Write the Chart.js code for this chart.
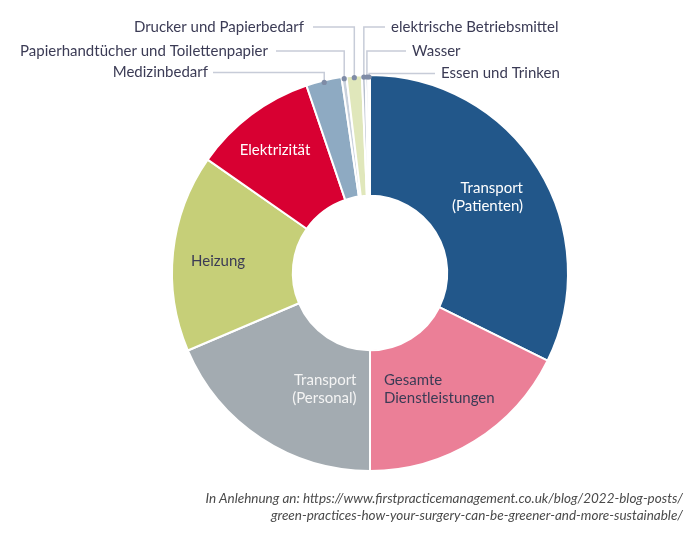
<!DOCTYPE html>
<html>
<head>
<meta charset="utf-8">
<script src="https://cdn.jsdelivr.net/npm/chart.js@4.4.1/dist/chart.umd.min.js"></script>
<style>
  html, body { margin: 0; padding: 0; background: #ffffff; }
  #wrap { position: relative; width: 700px; height: 540px; }
  #c { position: absolute; left: 0; top: 0; }
  #caption {
    position: absolute; right: 17px; top: 490px;
    font-family: Lato, "Open Sans", sans-serif; font-style: italic;
    font-size: 13.5px; line-height: 17px; color: #4a4a4a; text-align: right;
  }
</style>
</head>
<body>
<div id="wrap">
  <canvas id="c" width="700" height="540"></canvas>
  <div id="caption">In Anlehnung an: https://www.firstpracticemanagement.co.uk/blog/2022-blog-posts/<br>green-practices-how-your-surgery-can-be-greener-and-more-sustainable/</div>
</div>
<script>
const categories = [
  "Transport (Patienten)",
  "Gesamte Dienstleistungen",
  "Transport (Personal)",
  "Heizung",
  "Elektrizität",
  "Medizinbedarf",
  "Papierhandtücher und Toilettenpapier",
  "Drucker und Papierbedarf",
  "elektrische Betriebsmittel",
  "Wasser",
  "Essen und Trinken"
];
const shares = [32.3, 17.7, 18.6, 16.1, 10.1, 2.9, 0.4, 1.25, 0.3, 0.2, 0.15];
const colors = [
  "#22578a", "#eb7f97", "#a3abb1", "#c6cf78", "#d80032",
  "#8eaac2", "#c9d1dc", "#e0e7bb", "#b7bfcd", "#8fa1bd", "#6d86a9"
];

// layout of the text labels (relative to the doughnut centre, px)
const insideLabels = {
  0: { lines: ["Transport", "(Patienten)"], dx: 153, dy: -85, align: "right", color: "#ffffff" },
  1: { lines: ["Gesamte", "Dienstleistungen"], dx: 14, dy: 107.5, align: "left", color: "#3b3b55" },
  2: { lines: ["Transport", "(Personal)"], dx: -13.5, dy: 107.5, align: "right", color: "#f4f4f4" },
  3: { lines: ["Heizung"], dx: -179, dy: -12, align: "left", color: "#3b3b55" },
  4: { lines: ["Elektrizität"], dx: -95, dy: -123, align: "center", color: "#ffffff" }
};
// leader-line labels (absolute canvas px)
const outsideLabels = {
  5:  { y: 72.5, side: "left",  lineEnd: 213, textX: 208 },
  6:  { y: 51,   side: "left",  lineEnd: 276, textX: 268 },
  7:  { y: 27,   side: "left",  lineEnd: 313, textX: 304 },
  8:  { y: 27,   side: "right", lineEnd: 385, textX: 391 },
  9:  { y: 51,   side: "right", lineEnd: 406, textX: 412 },
  10: { y: 73.5, side: "right", lineEnd: 435, textX: 441 }
};

const FONT = "15px Lato, 'Open Sans', sans-serif";
const LINE_H = 18;

const labelPlugin = {
  id: "labels",
  afterDatasetsDraw(chart) {
    const ctx = chart.ctx;
    const arcs = chart.getDatasetMeta(0).data;
    const cx = arcs[0].x, cy = arcs[0].y;
    ctx.save();
    ctx.font = FONT;
    ctx.textBaseline = "middle";
    Object.keys(insideLabels).forEach(k => {
      const L = insideLabels[k];
      ctx.fillStyle = L.color;
      ctx.textAlign = L.align;
      L.lines.forEach((t, i) => ctx.fillText(t, cx + L.dx, cy + L.dy + i * LINE_H));
    });
    Object.keys(outsideLabels).forEach(k => {
      const L = outsideLabels[k];
      const a = arcs[k];
      const p = a.getProps(["startAngle", "endAngle", "outerRadius"], true);
      const mid = (p.startAngle + p.endAngle) / 2;
      const r = p.outerRadius - 2;
      const dxp = cx + Math.cos(mid) * r;
      const dyp = cy + Math.sin(mid) * r;
      ctx.strokeStyle = "#c7ccd8";
      ctx.lineWidth = 1.5;
      ctx.beginPath();
      ctx.moveTo(L.lineEnd, L.y);
      ctx.lineTo(dxp, L.y);
      ctx.lineTo(dxp, dyp);
      ctx.stroke();
      ctx.fillStyle = "#7f8ca6";
      ctx.beginPath();
      ctx.arc(dxp, dyp, 2.6, 0, Math.PI * 2);
      ctx.fill();
      ctx.fillStyle = "#3b3b55";
      ctx.textAlign = L.side === "left" ? "right" : "left";
      ctx.fillText(categories[k], L.textX, L.y);
    });
    ctx.restore();
  }
};

new Chart(document.getElementById("c"), {
  type: "doughnut",
  data: {
    labels: categories,
    datasets: [{
      data: shares,
      backgroundColor: colors,
      borderColor: "#ffffff",
      borderWidth: 2
    }]
  },
  options: {
    responsive: false,
    animation: false,
    cutout: "39%",
    layout: { padding: { left: 171, right: 131, top: 74, bottom: 68 } },
    plugins: {
      legend: { display: false },
      tooltip: { enabled: false }
    },
    events: []
  },
  plugins: [labelPlugin]
});
</script>
</body>
</html>
